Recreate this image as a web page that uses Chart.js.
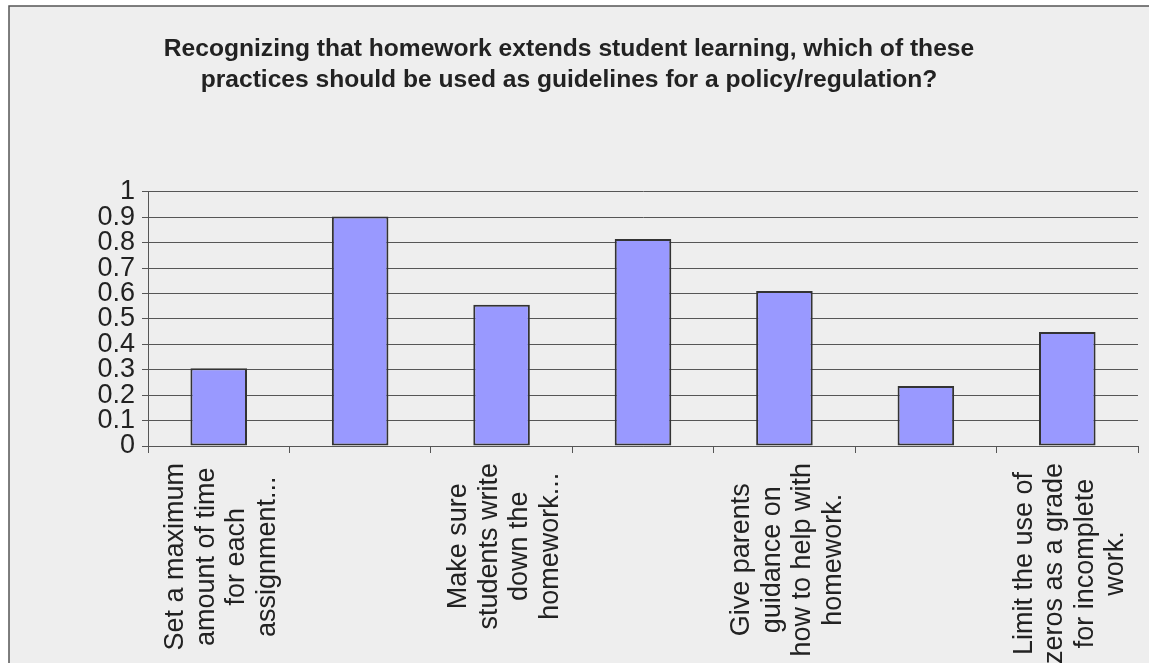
<!DOCTYPE html>
<html>
<head>
<meta charset="utf-8">
<script src="https://cdn.jsdelivr.net/npm/chart.js@4/dist/chart.umd.min.js"></script>
<style>
  html, body { margin: 0; padding: 0; background: #fff; }
  #wrap { width: 1149px; height: 663px; }
</style>
</head>
<body>
<div id="wrap"><canvas id="myBarChart"></canvas></div>
<script>
  // categories: only every other one is labelled on the axis
  const categories = [
    ['Set a maximum', 'amount of time', 'for each', 'assignment...'],
    '',
    ['Make sure', 'students write', 'down the', 'homework...'],
    '',
    ['Give parents', 'guidance on', 'how to help with', 'homework.'],
    '',
    ['Limit the use of', 'zeros as a grade', 'for incomplete', 'work.']
  ];
  const shares = [0.306, 0.904, 0.556, 0.815, 0.61, 0.236, 0.449];
  const titleLines = [
    'Recognizing that homework extends student learning, which of these',
    'practices should be used as guidelines for a policy/regulation?'
  ];

  const labelFont = '27px "Liberation Sans", Arial, sans-serif';

  // grey panel with border on top and left, like the original sheet
  const panelBg = {
    id: 'panelBg',
    beforeDraw(chart) {
      const ctx = chart.ctx;
      ctx.save();
      ctx.fillStyle = '#ffffff';
      ctx.fillRect(0, 0, chart.width, chart.height);
      ctx.fillStyle = '#eeeeee';
      ctx.fillRect(9, 6, chart.width - 9, chart.height - 6);
      ctx.strokeStyle = '#555555';
      ctx.lineWidth = 1.5;
      ctx.beginPath();
      ctx.moveTo(9, chart.height);
      ctx.lineTo(9, 6);
      ctx.lineTo(chart.width, 6);
      ctx.stroke();
      ctx.restore();
    }
  };

  // rotated category labels, lines centred on each other
  const rotatedLabels = {
    id: 'rotatedLabels',
    afterDraw(chart) {
      const ctx = chart.ctx;
      const xScale = chart.scales.x;
      const top = chart.chartArea.bottom + 17;
      ctx.save();
      ctx.font = labelFont;
      ctx.fillStyle = '#222';
      ctx.textAlign = 'center';
      ctx.textBaseline = 'middle';
      categories.forEach((lab, i) => {
        if (!lab) return;
        const lines = Array.isArray(lab) ? lab : [lab];
        const maxW = Math.max(...lines.map(l => ctx.measureText(l).width));
        const x = xScale.getPixelForValue(i) + 3;
        ctx.save();
        ctx.translate(x, top + maxW / 2);
        ctx.rotate(-Math.PI / 2);
        lines.forEach((l, j) => {
          ctx.fillText(l, 0, (j - (lines.length - 1) / 2) * 30.5);
        });
        ctx.restore();
      });
      ctx.restore();
    }
  };

  const barData = {
    labels: categories,
    datasets: [{
      data: shares,
      backgroundColor: '#9999ff',
      borderColor: '#333333',
      borderWidth: 2,
      borderSkipped: false,
      barPercentage: 0.4,
      categoryPercentage: 1
    }]
  };

  const barConfig = {
    type: 'bar',
    data: barData,
    plugins: [panelBg, rotatedLabels],
    options: {
      responsive: true,
      maintainAspectRatio: false,
      animation: false,
      layout: {
        padding: { left: 0, right: 11, top: 0, bottom: 210 }
      },
      plugins: {
        legend: { display: false },
        tooltip: { enabled: false },
        title: {
          display: true,
          text: titleLines,
          color: '#222',
          font: { family: '"Liberation Sans", Arial, sans-serif', size: 24.6, weight: 'bold', lineHeight: 1.26 },
          padding: { top: 34, bottom: 96 }
        }
      },
      scales: {
        x: {
          offset: true,
          grid: {
            offset: true,
            drawOnChartArea: false,
            drawTicks: true,
            tickLength: 7,
            color: '#555'
          },
          border: { display: true, color: '#555', width: 1 },
          ticks: { display: false }
        },
        y: {
          min: 0,
          max: 1,
          afterFit(scale) { scale.width = 148; },
          ticks: {
            stepSize: 0.1,
            autoSkip: false,
            padding: 7,
            color: '#222',
            font: { family: '"Liberation Sans", Arial, sans-serif', size: 27, lineHeight: 1 },
            callback: v => Math.round(v * 10) / 10
          },
          grid: { color: '#555', tickLength: 6 },
          border: { display: true, color: '#555', width: 1 }
        }
      }
    }
  };

  const myBarChart = new Chart(
    document.getElementById('myBarChart'),
    barConfig
  );
</script>
</body>
</html>
